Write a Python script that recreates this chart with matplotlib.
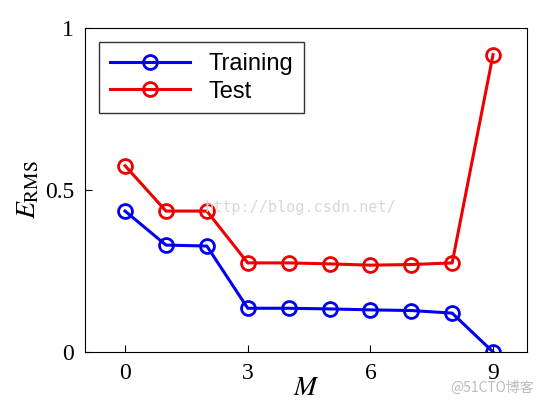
import numpy as np
import matplotlib
matplotlib.use('Agg')
import matplotlib.pyplot as plt

M = [0, 1, 2, 3, 4, 5, 6, 7, 8, 9]
train_rms = [0.435, 0.33, 0.327, 0.135, 0.135, 0.133, 0.13, 0.128, 0.12, 0.0]
test_rms = [0.575, 0.435, 0.435, 0.275, 0.275, 0.272, 0.268, 0.27, 0.275, 0.918]

plt.rcParams['mathtext.fontset'] = 'stix'
fig = plt.figure(figsize=(5.52, 4.03), dpi=100)
ax = fig.add_axes([85/552, 1-352/403, 442/552, 324/403])

ax.plot(M, train_rms, '-o', color='#0000ee', lw=2.2, ms=10, mfc='none', mew=2, label='Training')
ax.plot(M, test_rms, '-o', color='#ee0000', lw=2.2, ms=10, mfc='none', mew=2, label='Test')

ax.set_xlim(-0.98, 9.83)
ax.set_ylim(0, 1)
ax.set_xticks([0, 3, 6, 9])
ax.set_yticks([0, 0.5, 1])
ax.set_yticklabels(['0', '0.5', '1'])
for lab in ax.get_xticklabels() + ax.get_yticklabels():
    lab.set_family('Liberation Serif')
    lab.set_fontsize(17)
ax.tick_params(direction='in', length=5, pad=8)
ax.set_xlabel(r'$M$', fontsize=20, labelpad=-8)
ax.set_ylabel(r'$E_{\mathrm{RMS}}$', fontsize=20, labelpad=2)

leg = ax.legend(loc='upper left', prop={'family': 'Liberation Sans', 'size': 17},
                fancybox=False, edgecolor='black', handlelength=3.4,
                borderaxespad=0.6, labelspacing=0.25, borderpad=0.45)
leg.get_frame().set_linewidth(1.0)

fig.text(205/552, 1-212/403, 'http://blog.csdn.net/', family='DejaVu Sans Mono',
         fontsize=11, color='#d8d8d8')
fig.text(450/552, 1-392/403, '@51CTO博客', family=['Noto Sans CJK SC', 'DejaVu Sans'],
         fontsize=10, color='#bbbbbb')

fig.savefig('out.png', dpi=100)
